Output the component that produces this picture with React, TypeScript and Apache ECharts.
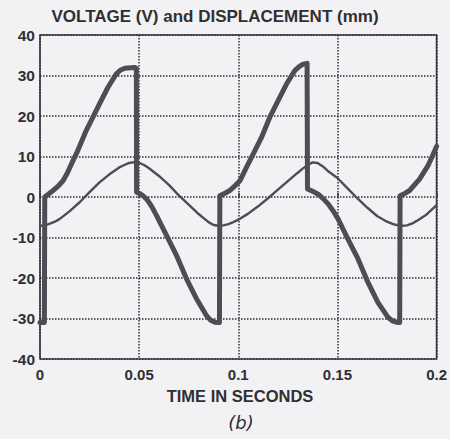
import React, { useEffect, useRef } from "react";
import * as echarts from "echarts";

const titleText = "VOLTAGE (V) and DISPLACEMENT (mm)";
const xAxisTitle = "TIME IN SECONDS";
const captionText = "(b)";
const xTickLabels = ["0", "0.05", "0.1", "0.15", "0.2"];
const yTickValues = [-40, -30, -20, -10, 0, 10, 20, 30, 40];

// Displacement (thin trace): [time s, value]
const displacement: [number, number][] = [
  [0, -7.1], [0.0025, -7.0], [0.005, -6.6], [0.0075, -6.1], [0.01, -5.4], [0.015, -3.5], [0.02, -1.3],
  [0.025, 1.2], [0.03, 3.6], [0.035, 5.6], [0.04, 7.3], [0.0425, 7.9], [0.045, 8.4],
  [0.0475, 8.6], [0.05, 8.45], [0.0525, 7.9], [0.055, 7.1], [0.06, 5.2], [0.065, 3.0],
  [0.07, 0.4], [0.075, -1.9], [0.08, -4.2], [0.085, -6.2], [0.0875, -6.9], [0.09, -7.1],
  [0.0925, -7.0], [0.095, -6.7], [0.0975, -6.2], [0.1, -5.6], [0.105, -4.1], [0.11, -2.3], [0.115, -0.3],
  [0.12, 1.8], [0.125, 3.9], [0.13, 6.0], [0.1325, 7.0], [0.135, 7.9], [0.1375, 8.55],
  [0.14, 8.4], [0.1425, 7.6], [0.145, 6.5], [0.15, 4.7], [0.155, 2.2], [0.16, -0.3],
  [0.165, -2.6], [0.17, -4.7], [0.175, -6.1], [0.1775, -6.6], [0.18, -6.95], [0.1825, -7.1],
  [0.185, -7.0], [0.1875, -6.6], [0.19, -5.9], [0.195, -4.3], [0.2, -2.0],
];

// Voltage (thick trace): [time s, value]
const voltage: [number, number][] = [
  [0, -31], [0.0022, -31], [0.0024, 0], [0.0035, 0.4], [0.0045, 0.8], [0.0066, 1.6],
  [0.009, 2.6], [0.0116, 4], [0.0138, 5.9], [0.0158, 8.1], [0.019, 11.4], [0.0233, 16.4], [0.0267, 19.7],
  [0.03, 23], [0.0343, 27.1], [0.0385, 30.4], [0.0405, 31.3], [0.0427, 31.8], [0.0477, 32],
  [0.0486, 31.8], [0.0487, 1.2], [0.0505, 0.8], [0.052, 0.3], [0.0538, -0.5], [0.0563, -2.3], [0.0588, -4.6],
  [0.0638, -9.5], [0.0689, -14.5], [0.0739, -20.2], [0.079, -25.2], [0.084, -29.3],
  [0.086, -30.4], [0.0882, -30.9], [0.0905, -31], [0.0907, 0.3], [0.0935, 1], [0.0957, 1.6],
  [0.098, 2.6], [0.1008, 4], [0.1041, 7.3], [0.1075, 10.6], [0.1117, 14.7], [0.1159, 19.7],
  [0.1201, 23.8], [0.1243, 27.9], [0.1285, 31.2], [0.1307, 32.2], [0.1327, 32.8], [0.1347, 33],
  [0.1349, 2], [0.1375, 1.4], [0.1403, 0.7], [0.1428, -0.4], [0.1453, -1.7], [0.1478, -3.4], [0.1503, -5.4],
  [0.1553, -10.4], [0.1604, -15.3], [0.1654, -21.1], [0.1704, -26], [0.1755, -29.7],
  [0.1777, -30.6], [0.1797, -30.9], [0.1814, -31], [0.1816, 0.3], [0.184, 0.9], [0.1864, 1.6],
  [0.1914, 4.4], [0.1956, 7.7], [0.1978, 10], [0.2, 12.5],
];

const FONT = "'Liberation Sans', Arial, sans-serif";
const TEXT = "#2f2f33";
const LINE = "#4e4c54";

export default function App() {
  const ref = useRef<HTMLDivElement>(null);
  useEffect(() => {
    document.body.style.margin = "0";
    if (!ref.current) return;
    const chart = echarts.init(ref.current, undefined, { renderer: "svg" });
    chart.setOption({
      animation: false,
      backgroundColor: "#f2f2f4",
      grid: {
        left: 40,
        right: 13,
        top: 35,
        bottom: 80,
        show: true,
        borderColor: "#38383c",
        borderWidth: 1.6,
        backgroundColor: "transparent",
      },
      xAxis: {
        type: "value",
        min: 0,
        max: 0.2,
        interval: 0.05,
        axisLine: { show: false },
        axisTick: { show: true, inside: true, length: 4, lineStyle: { color: "#38383c", width: 1.5 } },
        axisLabel: {
          color: TEXT,
          fontFamily: FONT,
          fontWeight: "bold",
          fontSize: 15,
          margin: 8,
          formatter: (v: number) => xTickLabels[Math.round(v / 0.05)] ?? "",
        },
        splitLine: { show: true, lineStyle: { color: "#2e2e32", type: [1.5, 1.5], width: 1.5 } },
      },
      yAxis: {
        type: "value",
        min: -40,
        max: 40,
        interval: 10,
        axisLine: { show: false },
        axisTick: { show: false },
        axisLabel: {
          color: TEXT,
          fontFamily: FONT,
          fontWeight: "bold",
          fontSize: 15.5,
          margin: 5,
          formatter: (v: number) => (yTickValues.includes(v) ? String(v) : ""),
        },
        splitLine: { show: true, lineStyle: { color: "#2e2e32", type: [1.5, 1.5], width: 1.5 } },
      },
      graphic: [
        {
          type: "text",
          x: 215,
          y: 16,
          style: {
            text: titleText,
            fill: TEXT,
            font: `bold 17px ${FONT}`,
            textAlign: "center",
            textVerticalAlign: "middle",
          },
        },
        {
          type: "text",
          x: 240,
          y: 396,
          style: {
            text: xAxisTitle,
            fill: TEXT,
            font: `bold 16.5px ${FONT}`,
            textAlign: "center",
            textVerticalAlign: "middle",
          },
        },
        {
          type: "text",
          x: 241,
          y: 422,
          style: {
            text: captionText,
            fill: TEXT,
            font: `italic 18px 'DejaVu Sans', sans-serif`,
            textAlign: "center",
            textVerticalAlign: "middle",
          },
        },
      ],
      series: [
        {
          type: "line",
          data: displacement,
          showSymbol: false,
          smooth: false,
          lineStyle: { color: LINE, width: 2.4, join: "round" },
          z: 2,
        },
        {
          type: "line",
          data: voltage,
          showSymbol: false,
          smooth: false,
          lineStyle: { color: LINE, width: 5, join: "round", cap: "round" },
          z: 3,
        },
      ],
    });
    return () => chart.dispose();
  }, []);
  return <div ref={ref} style={{ width: 450, height: 439 }} />;
}
